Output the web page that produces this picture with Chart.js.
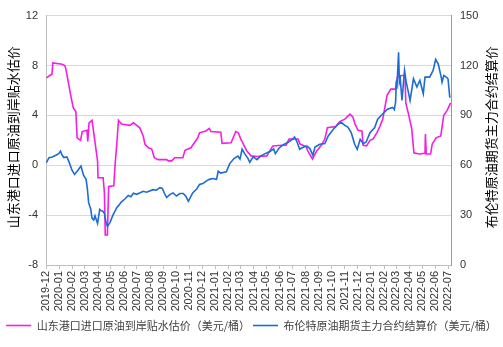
<!DOCTYPE html>
<html>
<head>
<meta charset="utf-8">
<script src="https://cdn.jsdelivr.net/npm/chart.js@4"></script>
<style>
  html, body { margin: 0; padding: 0; background: #fff; }
</style>
</head>
<body>
<canvas id="chart" width="503" height="347"></canvas>
<script>
// Tick labels on the date axis (one per month)
const monthLabels = ['2019-12', '2020-01', '2020-02', '2020-03', '2020-04', '2020-05', '2020-06',
    '2020-07', '2020-08', '2020-09', '2020-10', '2020-11', '2020-12', '2021-01', '2021-02',
    '2021-03', '2021-04', '2021-05', '2021-06', '2021-07', '2021-08', '2021-09', '2021-10',
    '2021-11', '2021-12', '2022-01', '2022-02', '2022-03', '2022-04', '2022-05', '2022-06', '2022-07'];

const leftTicks = [-8, -4, 0, 4, 8, 12];
const rightTicks = [0, 30, 60, 90, 120, 150];

const premiumName = '山东港口进口原油到岸贴水估价（美元/桶）';
const brentName = '布伦特原油期货主力合约结算价（美元/桶）';
const leftTitle = '山东港口进口原油到岸贴水估价';
const rightTitle = '布伦特原油期货主力合约结算价';

// Shandong port premium (left axis)
const premiumDates = ['2019-12-02', '2019-12-10', '2019-12-15', '2019-12-17', '2020-01-08', '2020-01-14',
    '2020-01-16', '2020-01-21', '2020-01-28', '2020-02-03', '2020-02-09', '2020-02-12', '2020-02-20',
    '2020-02-24', '2020-03-06', '2020-03-08', '2020-03-11', '2020-03-18', '2020-03-26', '2020-03-31',
    '2020-04-01', '2020-04-13', '2020-04-16', '2020-04-18', '2020-04-23', '2020-04-26', '2020-05-08',
    '2020-05-11', '2020-05-15', '2020-05-19', '2020-05-26', '2020-06-15', '2020-06-23', '2020-07-01',
    '2020-07-08', '2020-07-16', '2020-07-20', '2020-07-28', '2020-08-05', '2020-08-11', '2020-08-20',
    '2020-09-09', '2020-09-13', '2020-09-21', '2020-09-28', '2020-10-17', '2020-10-22', '2020-11-05',
    '2020-11-13', '2020-11-21', '2020-11-25', '2020-12-10', '2020-12-18', '2020-12-22', '2021-01-14',
    '2021-01-17', '2021-02-07', '2021-02-14', '2021-02-18', '2021-02-24', '2021-03-02', '2021-03-10',
    '2021-03-16', '2021-03-26', '2021-04-09', '2021-05-02', '2021-05-16', '2021-06-06', '2021-06-16',
    '2021-06-23', '2021-07-14', '2021-07-19', '2021-08-02', '2021-08-06', '2021-08-17', '2021-08-27',
    '2021-09-07', '2021-09-15', '2021-09-21', '2021-10-11', '2021-10-20', '2021-11-01', '2021-11-13',
    '2021-11-20', '2021-11-25', '2021-12-02', '2021-12-11', '2021-12-14', '2021-12-22', '2021-12-30',
    '2022-01-06', '2022-01-15', '2022-01-22', '2022-01-29', '2022-02-08', '2022-02-17', '2022-02-28',
    '2022-03-04', '2022-03-15', '2022-03-22', '2022-03-24', '2022-03-31', '2022-04-07', '2022-04-12',
    '2022-04-24', '2022-05-08', '2022-05-09', '2022-05-11', '2022-05-21', '2022-05-25', '2022-06-03',
    '2022-06-14', '2022-06-21', '2022-06-29', '2022-07-07'];
const premiumValues = [7.0, 7.2, 7.3, 8.2, 8.1, 8.0,
    7.8, 6.9, 5.6, 4.6, 4.3, 2.2, 2.0,
    2.7, 2.8, 1.9, 3.4, 3.6, 1.6, 0.3,
    -1.0, -1.0, -2.2, -5.6, -5.6, -1.7, -1.65,
    0.0, 1.7, 3.6, 3.3, 3.2, 3.4, 3.2,
    3.0, 2.35, 1.7, 1.4, 1.3, 0.6, 0.45,
    0.45, 0.35, 0.35, 0.6, 0.6, 1.2, 1.4,
    1.8, 2.2, 2.6, 2.75, 2.95, 2.7, 2.65,
    1.75, 1.8, 2.35, 2.7, 2.6, 2.1, 1.55,
    1.15, 0.75, 0.7, 0.75, 1.55, 1.6, 1.6,
    2.1, 2.1, 1.7, 1.5, 1.15, 0.5, 1.15,
    1.6, 2.1, 3.0, 3.1, 3.5, 3.7, 4.1,
    3.85, 3.3, 2.8, 2.75, 1.6, 1.55, 2.0,
    2.1, 2.6, 3.1, 3.7, 5.6, 6.1, 6.1,
    7.05, 7.2, 7.2, 5.0, 4.0, 2.9, 1.0,
    0.9, 0.95, 2.5, 0.9, 0.9, 1.7, 2.2,
    2.35, 4.0, 4.4, 5.0];

// Brent front-month settlement (right axis)
const brentDates = ['2019-12-02', '2019-12-08', '2019-12-16', '2019-12-24', '2019-12-31', '2020-01-04',
    '2020-01-08', '2020-01-12', '2020-01-19', '2020-01-24', '2020-01-31', '2020-02-06', '2020-02-14',
    '2020-02-21', '2020-02-27', '2020-03-04', '2020-03-07', '2020-03-10', '2020-03-15', '2020-03-18',
    '2020-03-22', '2020-03-25', '2020-03-31', '2020-04-05', '2020-04-09', '2020-04-12', '2020-04-16',
    '2020-04-20', '2020-04-23', '2020-04-29', '2020-05-06', '2020-05-15', '2020-05-20', '2020-05-26',
    '2020-06-03', '2020-06-11', '2020-06-17', '2020-06-23', '2020-07-01', '2020-07-16', '2020-07-24',
    '2020-08-08', '2020-08-16', '2020-08-24', '2020-08-30', '2020-09-04', '2020-09-09', '2020-09-17',
    '2020-09-24', '2020-10-02', '2020-10-10', '2020-10-18', '2020-10-24', '2020-10-30', '2020-11-09',
    '2020-11-18', '2020-11-25', '2020-12-03', '2020-12-10', '2020-12-18', '2020-12-26', '2021-01-04',
    '2021-01-08', '2021-01-14', '2021-01-27', '2021-02-04', '2021-02-14', '2021-02-23', '2021-02-28',
    '2021-03-05', '2021-03-11', '2021-03-19', '2021-03-23', '2021-03-31', '2021-04-09', '2021-04-17',
    '2021-04-28', '2021-05-10', '2021-05-18', '2021-05-22', '2021-05-31', '2021-06-10', '2021-06-22',
    '2021-07-03', '2021-07-06', '2021-07-12', '2021-07-18', '2021-07-27', '2021-08-04', '2021-08-11',
    '2021-08-18', '2021-08-23', '2021-09-03', '2021-09-15', '2021-09-23', '2021-10-05', '2021-10-16',
    '2021-10-24', '2021-11-01', '2021-11-08', '2021-11-16', '2021-11-24', '2021-11-30', '2021-12-07',
    '2021-12-14', '2021-12-21', '2021-12-30', '2022-01-10', '2022-01-17', '2022-01-28', '2022-02-09',
    '2022-02-21', '2022-02-25', '2022-02-28', '2022-03-02', '2022-03-03', '2022-03-07', '2022-03-09',
    '2022-03-11', '2022-03-15', '2022-03-21', '2022-03-25', '2022-03-30', '2022-04-03', '2022-04-11',
    '2022-04-19', '2022-04-26', '2022-05-04', '2022-05-08', '2022-05-19', '2022-05-27', '2022-06-02',
    '2022-06-08', '2022-06-15', '2022-06-17', '2022-06-21', '2022-06-27', '2022-07-01', '2022-07-05',
    '2022-07-07'];
const brentValues = [61.5, 64.5, 65, 66, 67, 68.5,
    66, 64.6, 65, 62, 57, 54.5, 57,
    59.5, 54, 51.5, 46, 37.5, 33.5, 28,
    27, 29.5, 25, 33.5, 32.5, 32.5, 31,
    25.5, 23.3, 25.5, 30, 34.5, 36, 38,
    39.7, 41.8, 41, 43.2, 42.5, 44.3, 43.8,
    45.3, 45, 46.5, 46, 43, 40.6, 42.5,
    43.3, 41.5, 43, 43, 41.3, 38.3, 43.3,
    45.5, 48.4, 49, 50.3, 51.5, 52, 51.5,
    56.4, 55.3, 56, 61, 64, 65.5, 63.7,
    69.6, 67, 64, 61.8, 65, 63.4, 65.5,
    67, 68.4, 69.8, 67, 70.4, 72.4, 74,
    76, 77, 74, 69.6, 71, 71.5, 70,
    66, 71, 72.6, 73, 77.6, 81.6, 84.7,
    85.7, 84, 83, 79.6, 72.6, 69.6, 75.6,
    73, 74, 79.6, 82.7, 87.7, 90.7, 93.7,
    94.8, 93.5, 98, 111, 106, 128, 110,
    112, 99, 117, 110, 104, 99, 112,
    107, 111, 103, 113, 113, 117, 123.6,
    121, 113, 110, 114, 113, 112, 101,
    101];

const startDay = Date.UTC(2019, 11, 1);
function dayOf(s) {
    const p = s.split('-').map(Number);
    return (Date.UTC(p[0], p[1] - 1, p[2] || 1) - startDay) / 86400000;
}
function toPoints(dates, values) {
    return dates.map((d, i) => ({ x: dayOf(d), y: values[i] }));
}

// Rotated axis titles, both reading bottom to top
const axisTitles = {
    id: 'axisTitles',
    afterDraw(chart) {
        const ctx = chart.ctx;
        const area = chart.chartArea;
        const midY = (area.top + area.bottom) / 2 - 3;
        ctx.save();
        ctx.font = '13px "Noto Sans CJK SC"';
        ctx.fillStyle = '#000';
        ctx.textAlign = 'center';
        ctx.textBaseline = 'middle';
        [[13, leftTitle], [491, rightTitle]].forEach(([x, text]) => {
            ctx.save();
            ctx.translate(x, midY);
            ctx.rotate(-Math.PI / 2);
            ctx.fillText(text, 0, 0);
            ctx.restore();
        });
        ctx.restore();
    }
};

const tickFont = { family: '"Liberation Sans", Arial, sans-serif', size: 11 };

new Chart(document.getElementById('chart'), {
    type: 'line',
    data: {
        datasets: [{
            label: premiumName,
            data: toPoints(premiumDates, premiumValues),
            yAxisID: 'y',
            borderColor: '#f41ee4',
            backgroundColor: '#f41ee4',
            borderWidth: 1.6,
            pointRadius: 0,
            tension: 0,
            order: 1
        }, {
            label: brentName,
            data: toPoints(brentDates, brentValues),
            yAxisID: 'y2',
            borderColor: '#1b6cd3',
            backgroundColor: '#1b6cd3',
            borderWidth: 1.6,
            pointRadius: 0,
            tension: 0,
            order: 0
        }]
    },
    options: {
        responsive: false,
        animation: false,
        layout: { padding: { top: 11, left: 0, right: 0, bottom: 6 } },
        plugins: {
            tooltip: { enabled: false },
            legend: {
                position: 'bottom',
                labels: {
                    usePointStyle: true,
                    pointStyle: 'line',
                    pointStyleWidth: 25,
                    padding: 3,
                    color: '#404040',
                    font: { family: '"Noto Sans CJK SC"', size: 11 },
                    sort: (a, b) => a.datasetIndex - b.datasetIndex
                }
            }
        },
        scales: {
            x: {
                type: 'linear',
                min: 0,
                max: dayOf('2022-07-08'),
                afterBuildTicks: (scale) => {
                    scale.ticks = monthLabels.map(m => ({ value: dayOf(m) }));
                },
                afterFit: (scale) => { scale.height = 52; },
                ticks: {
                    autoSkip: false,
                    maxRotation: 90,
                    minRotation: 90,
                    color: '#333',
                    font: tickFont,
                    padding: 2,
                    callback: (v, i) => monthLabels[i]
                },
                grid: {
                    drawOnChartArea: false,
                    drawTicks: true,
                    tickLength: 4,
                    color: '#bfbfbf'
                },
                border: { color: '#bfbfbf' }
            },
            y: {
                position: 'left',
                min: -8,
                max: 12,
                afterBuildTicks: (scale) => {
                    scale.ticks = leftTicks.map(v => ({ value: v }));
                },
                afterFit: (scale) => { scale.width = 46; },
                ticks: { color: '#333', font: tickFont, padding: 8 },
                grid: { color: '#d9d9d9', drawTicks: false },
                border: { color: '#bfbfbf' }
            },
            y2: {
                position: 'right',
                min: 0,
                max: 150,
                afterBuildTicks: (scale) => {
                    scale.ticks = rightTicks.map(v => ({ value: v }));
                },
                afterFit: (scale) => { scale.width = 52; },
                ticks: { color: '#333', font: tickFont, padding: 9 },
                grid: { drawOnChartArea: false, drawTicks: false },
                border: { color: '#9a9a9a' }
            }
        }
    },
    plugins: [axisTitles]
});
</script>
</body>
</html>
